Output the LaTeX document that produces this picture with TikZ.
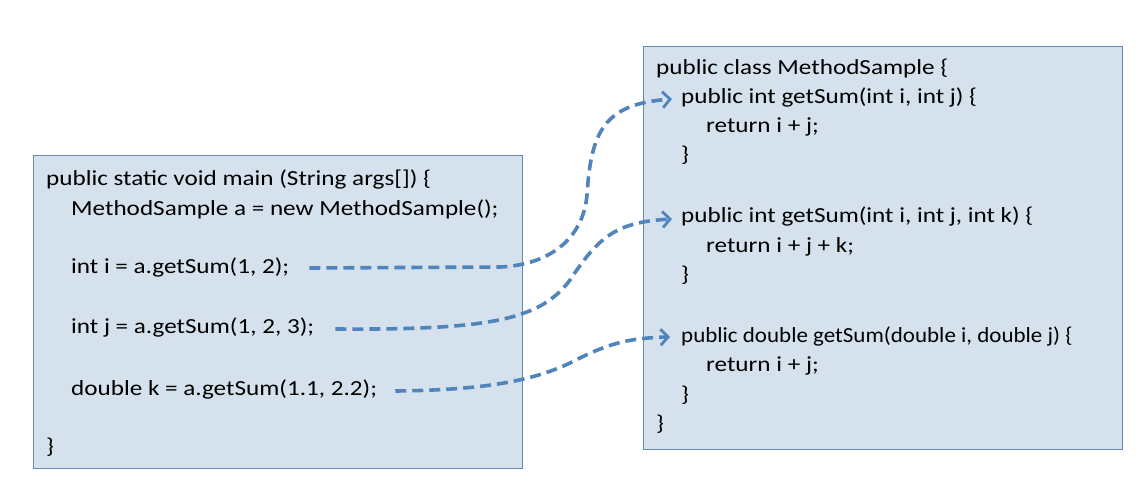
\documentclass[tikz,border=0pt]{standalone}
\usepackage{fontspec}
\setmainfont{Carlito}[FakeStretch=1.17]
\newfontfamily\narrowcode{Carlito}[FakeStretch=1.07]
\usetikzlibrary{arrows.meta}
\definecolor{boxfill}{RGB}{213,226,237}
\definecolor{boxline}{RGB}{98,138,178}
\definecolor{connblue}{RGB}{80,132,186}
\begin{document}
\begin{tikzpicture}[x=1pt,y=-1pt,
  code/.style={anchor=base west,inner sep=0pt,font=\fontsize{21.5}{24}\selectfont},
  codebox/.style={draw=boxline,fill=boxfill,line width=0.9pt,anchor=north west,inner sep=0pt},
  callarrow/.style={draw=connblue,line width=3.6pt,dash pattern=on 11pt off 6pt,
    -{Straight Barb[length=7.5pt,width=16pt,line width=2.8pt]}}]
\useasboundingbox (0,0) rectangle (1142,482);
\fill[white] (0,0) rectangle (1142,482);
\node[codebox,minimum width=489pt,minimum height=313pt] (mainbox) at (33,155) {};
\node[codebox,minimum width=479pt,minimum height=403pt] (classbox) at (643,46) {};
% left
\node[code] (l1) at (46,185) {public static void main (String args[]) \{};
\node[code] (l2) at (71,215) {MethodSample a = new MethodSample();};
\node[code] (c1) at (71,273) {int i = a.getSum(1, 2);};
\node[code] (c2) at (71,333) {int j = a.getSum(1, 2, 3);};
\node[code] (c3) at (71,395) {double k = a.getSum(1.1, 2.2);};
\node[code] (l6) at (46,453) {\}};
% right
\node[code] (r1) at (656,74) {public class MethodSample \{};
\node[code] (m1) at (681,103) {public int getSum(int i, int j) \{};
\node[code] (r3) at (706,132) {return i + j;};
\node[code] (r4) at (681,161) {\}};
\node[code] (m2) at (681,222) {public int getSum(int i, int j, int k) \{};
\node[code] (r6) at (706,252) {return i + j + k;};
\node[code] (r7) at (681,281) {\}};
\node[code,font=\narrowcode\fontsize{21.5}{24}\selectfont] (m3) at (681,342) {public double getSum(double i, double j) \{};
\node[code] (r9) at (706,371) {return i + j;};
\node[code] (r10) at (681,401) {\}};
\node[code] (r11) at (656,430) {\}};
% connectors
\draw[callarrow] ([xshift=20pt,yshift=5pt]c1.base east) -- (500,267)
  .. controls (548,265) and (583,240) .. (587,195)
  .. controls (591,130) and (605,104) .. ([xshift=-9pt,yshift=4pt]m1.base west);
\draw[callarrow] ([xshift=21pt,yshift=4pt]c2.base east) .. controls (490,330) and (540,320) .. (570,280)
  .. controls (598,238) and (615,222) .. ([xshift=-9pt,yshift=3pt]m2.base west);
\draw[callarrow] ([xshift=18pt,yshift=4pt]c3.base east) .. controls (480,390) and (530,382) .. (570,363)
  .. controls (605,345) and (625,338) .. ([xshift=-11pt,yshift=5pt]m3.base west);
\end{tikzpicture}
\end{document}
